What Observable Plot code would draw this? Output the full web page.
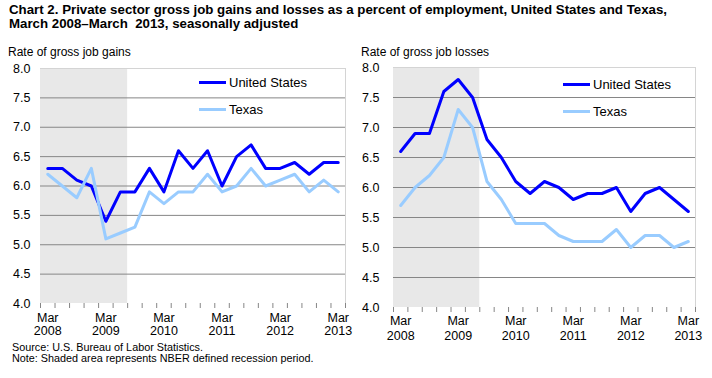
<!DOCTYPE html>
<html><head><meta charset="utf-8">
<script src="https://cdn.jsdelivr.net/npm/d3@7"></script>
<script src="https://cdn.jsdelivr.net/npm/@observablehq/plot@0.6"></script>
<style>
body{margin:0;background:#fff;font-family:"Liberation Sans",Arial,sans-serif;color:#000;}
#wrap{position:relative;width:712px;height:378px;overflow:hidden;background:#fff;}
.abs{position:absolute;white-space:pre;line-height:1;}
.title{font-weight:bold;font-size:13px;transform-origin:0 0;}
.ylab{font-size:12px;}
.note{font-size:11px;transform-origin:0 0;}
.leg{font-size:13px;display:flex;align-items:center;}
.sw{display:inline-block;width:27px;height:3px;margin-right:3px;}
.panel{position:absolute;}
</style></head>
<body><div id="wrap"></div>
<script>
// ---- data ----
const quarters = ["Mar 2008","Jun 2008","Sep 2008","Dec 2008","Mar 2009","Jun 2009","Sep 2009","Dec 2009",
  "Mar 2010","Jun 2010","Sep 2010","Dec 2010","Mar 2011","Jun 2011","Sep 2011","Dec 2011",
  "Mar 2012","Jun 2012","Sep 2012","Dec 2012","Mar 2013"];
const tickQuarters = ["Mar 2008","Mar 2009","Mar 2010","Mar 2011","Mar 2012","Mar 2013"];
const recession = ["Mar 2008","Jun 2009"];
const yTicks = [4.0,4.5,5.0,5.5,6.0,6.5,7.0,7.5,8.0];
const seriesNames = ["United States","Texas"];

const gainsUS = [6.3,6.3,6.1,6.0,5.4,5.9,5.9,6.3,5.9,6.6,6.3,6.6,6.0,6.5,6.7,6.3,6.3,6.4,6.2,6.4,6.4];
const gainsTX = [6.2,6.0,5.8,6.3,5.1,5.2,5.3,5.9,5.7,5.9,5.9,6.2,5.9,6.0,6.3,6.0,6.1,6.2,5.9,6.1,5.9];
const lossesUS = [6.6,6.9,6.9,7.6,7.8,7.5,6.8,6.5,6.1,5.9,6.1,6.0,5.8,5.9,5.9,6.0,5.6,5.9,6.0,5.8,5.6];
const lossesTX = [5.7,6.0,6.2,6.5,7.3,7.0,6.1,5.8,5.4,5.4,5.4,5.2,5.1,5.1,5.1,5.3,5.0,5.2,5.2,5.0,5.1];

const titleLines = ["Chart 2. Private sector gross job gains and losses as a percent of employment, United States and Texas,",
  "March 2008\u2013March  2013, seasonally adjusted"];
const leftLabel = "Rate of gross job gains";
const rightLabel = "Rate of gross job losses";
const notes = ["Source: U.S. Bureau of Labor Statistics.", "Note: Shaded area represents NBER defined recession period."];

// ---- styles ----
const US_COLOR = "#0000ff", TX_COLOR = "#99ccff";
const wrap = document.getElementById("wrap");

function addText(cls, text, left, top) {
  const d = document.createElement("div");
  d.className = "abs " + cls;
  d.textContent = text;
  d.style.left = left + "px"; d.style.top = top + "px";
  wrap.appendChild(d);
  return d;
}

function panel({us, tx, width, height, mt, mb, ml, mr, padY, padX, lh}) {
  const data = quarters.map((q, i) => ({i, q, us: us[i], tx: tx[i]}));
  const r0 = quarters.indexOf(recession[0]), r1 = quarters.indexOf(recession[1]);
  const n = quarters.length;
  const bounds = d3.range(n + 1).map(k => k - 0.5);
  const tickIdx = tickQuarters.map(q => quarters.indexOf(q));
  return Plot.plot({
    width, height, marginTop: mt, marginBottom: mb, marginLeft: ml, marginRight: mr,
    style: {fontFamily: "'Liberation Sans', Arial, sans-serif", fontSize: "12px", color: "#000", background: "transparent", overflow: "visible"},
    x: {domain: [-0.5, n - 0.5]},
    y: {domain: [yTicks[0], yTicks[yTicks.length - 1]]},
    marks: [
      Plot.rect([{a: r0 - 0.5, b: r1 + 0.5}], {x1: "a", x2: "b", fill: "#e8e8e8"}),
      Plot.ruleY(yTicks.slice(1, -1), {stroke: "#868686", strokeWidth: 1}),
      Plot.ruleY([yTicks[yTicks.length - 1]], {stroke: "#d4d4d4"}),
      Plot.ruleX([n - 0.5], {stroke: "#d4d4d4"}),
      Plot.axisY({ticks: yTicks, tickFormat: d => d.toFixed(1), tickSize: 0, tickPadding: padY, line: true, stroke: "#868686", fill: "#000", label: null, fontSize: 12.5}),
      Plot.axisX({ticks: bounds, tickSize: 5, tickFormat: () => "", line: true, stroke: "#868686", label: null}),
      Plot.axisX({ticks: tickIdx, tickSize: 0, tickPadding: padX, tickFormat: i => quarters[i].replace(" ", "\n"), label: null, fill: "#000", lineHeight: lh, fontSize: 12.5}),
      Plot.line(data, {x: "i", y: "us", stroke: US_COLOR, strokeWidth: 3}),
      Plot.line(data, {x: "i", y: "tx", stroke: TX_COLOR, strokeWidth: 3})
    ]
  });
}

// titles
const t1 = addText("title", titleLines[0], 9, 3);
const t2 = addText("title", titleLines[1], 9, 17);
const k = 658 / t1.getBoundingClientRect().width;
t1.style.transform = `scaleX(${k})`; t2.style.transform = `scaleX(${k})`;

addText("ylab", leftLabel, 8, 46);
addText("ylab", rightLabel, 361, 46);

// panels
const p1 = panel({us: gainsUS, tx: gainsTX, width: 355, height: 283, mt: 10, mb: 38, ml: 40, mr: 10, padY: 10, padX: 10, lh: 1.0});
p1.classList.add("panel"); p1.style.left = "0px"; p1.style.top = "58px";
wrap.appendChild(p1);
const p2 = panel({us: lossesUS, tx: lossesTX, width: 357, height: 290, mt: 10, mb: 40, ml: 38, mr: 17, padY: 14, padX: 7, lh: 1.2});
p2.classList.add("panel"); p2.style.left = "355px"; p2.style.top = "57px";
wrap.appendChild(p2);

// legends
function legend(x, y) {
  [[seriesNames[0], US_COLOR], [seriesNames[1], TX_COLOR]].forEach(([name, c], j) => {
    const d = document.createElement("div");
    d.className = "abs leg";
    d.style.left = x + "px"; d.style.top = (y + j * 27 - 7) + "px";
    d.innerHTML = `<span class="sw" style="background:${c}"></span><span>${name}</span>`;
    wrap.appendChild(d);
  });
}
legend(199, 83);
legend(563, 85);

// notes
const n1 = addText("note", notes[0], 12, 342);
const n2 = addText("note", notes[1], 12, 353);
const kn = 191 / n1.getBoundingClientRect().width;
n1.style.transform = `scaleX(${kn})`; n2.style.transform = `scaleX(${kn})`;
</script>
</body></html>
